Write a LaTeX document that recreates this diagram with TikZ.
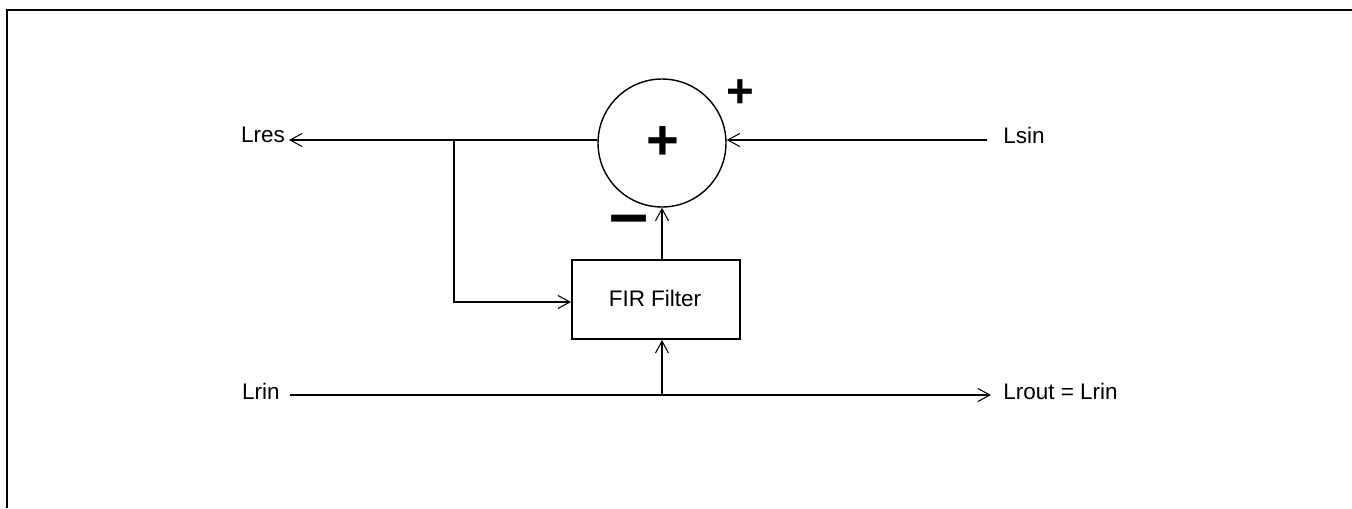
\documentclass[tikz,border=0pt]{standalone}
\usepackage{fontspec}
\setmainfont{Liberation Sans}
\usetikzlibrary{arrows.meta,positioning}

\begin{document}
\begin{tikzpicture}[
  x=0.02cm, y=-0.02cm,
  >={Straight Barb[length=2.4mm,width=2.6mm,line width=0.6pt]},
  every node/.style={font=\fontsize{12.8}{15}\selectfont},
  wire/.style={line width=1.1pt},
  sumnode/.style={draw, circle, line width=0.8pt, minimum size=2.56cm, inner sep=0pt},
  blockbox/.style={draw, line width=1.1pt, minimum width=3.36cm, minimum height=1.58cm, inner sep=0pt},
  sign/.style={inner sep=0pt, font=\fontsize{#1}{#1}\selectfont\bfseries},
]
  \useasboundingbox (0,0) rectangle (1352,508);
  % frame
  \draw[line width=1.6pt] (7,508) -- (7,10) -- (1352,10);

  % ---------- blocks ----------
  \node[sumnode]  (sum) at (662,143) {};
  \node[sign=32]  (sumplus) at (663,143) {+};
  \node[sign=27]  (plus) at (740,94) {+};
  \node[sign=40]  (minus) at (629,226) {--};
  \node[blockbox] (fir) at (656,299.5) {};
  \node           (firtext) at (655,298) {FIR Filter};

  % ---------- signal labels ----------
  \node[anchor=east, inner sep=1pt] (lres)  at (287,135) {Lres};
  \node[anchor=west, inner sep=0pt] (lsin)  at (1003,135) {Lsin};
  \node[anchor=east, inner sep=0pt] (lrin)  at (280,391) {Lrin};
  \node[anchor=west, inner sep=0pt] (lrout) at (1003,391) {Lrout = Lrin};

  \coordinate (sinstart) at (987,140);
  \coordinate (resend)   at (289,140);
  \coordinate (tap)      at (454,140);
  \coordinate (tapdown)  at (454,302);
  \coordinate (rinstart) at (290,395);
  \coordinate (routend)  at (991,395);

  % ---------- connectors ----------
  \draw[wire,->] (sinstart) -- (sum.east |- sinstart);
  \draw[wire,->] (sum.west |- resend) -- (resend);
  \draw[wire,->] (tap) -- (tapdown) -- (fir.west |- tapdown);
  \draw[wire,->] (fir.north -| sum) -- (sum.south);
  \draw[wire,->] (rinstart) -- (routend);
  \draw[wire,->] (sum |- rinstart) -- (sum |- fir.south);
\end{tikzpicture}
\end{document}
